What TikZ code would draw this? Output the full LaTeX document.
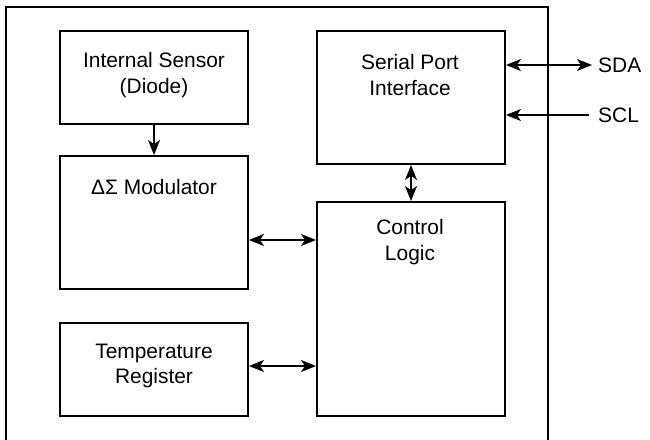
\documentclass[tikz,border=0pt]{standalone}
\usepackage{fontspec}
\setmainfont{Liberation Sans}
\usetikzlibrary{arrows.meta}
\begin{document}
\begin{tikzpicture}[x=1bp,y=-1bp,
  blk/.style={draw,line width=2bp,inner sep=0pt},
  lbl/.style={font=\fontsize{21}{26}\selectfont,align=center,inner sep=0pt},
  tip/.tip={Stealth[length=15bp,width=12bp,inset=4bp]},
  conn/.style={line width=1.8bp,tip-tip},
  oneway/.style={line width=1.8bp,-tip}]
\useasboundingbox (0,0) rectangle (650,440);
% outer frame (open at bottom)
\draw[line width=2.2bp] (6,445) -- (6,7) -- (548,7) -- (548,445);
% blocks
\node[blk,minimum width=188bp,minimum height=93bp] (sens) at (154,77.5) {};
\node[blk,minimum width=188bp,minimum height=133bp] (mod) at (154,222.5) {};
\node[blk,minimum width=188bp,minimum height=93bp] (temp) at (154,369.5) {};
\node[blk,minimum width=188bp,minimum height=133bp] (spi) at (411,97.5) {};
\node[blk,minimum width=188bp,minimum height=214bp] (ctl) at (411,309) {};
% labels
\node[lbl] (tsens) at (154,75) {Internal Sensor\\(Diode)};
\node[lbl] (tmod) at (154,187) {ΔΣ Modulator};
\node[lbl] (ttemp) at (154,366) {Temperature\\Register};
\node[lbl] (tspi) at (410,75) {Serial Port\\Interface};
\node[lbl] (tctl) at (410,242) {Control\\Logic};
\node[lbl,anchor=west] (sda) at (598,65) {SDA};
\node[lbl,anchor=west] (scl) at (598,115) {SCL};
\coordinate (sdaend) at (592,65);
\coordinate (sclend) at (589,115);
% connectors
\draw[oneway] (sens.south) -- (mod.north);
\draw[conn] (spi.south) -- (ctl.north);
\draw[conn] (mod.east |- 0,240) -- (ctl.west |- 0,240);
\draw[conn] (temp.east |- 0,366) -- (ctl.west |- 0,366);
\draw[conn] (spi.east |- sdaend) -- (sdaend);
\draw[oneway] (sclend) -- (spi.east |- sclend);
\end{tikzpicture}
\end{document}
